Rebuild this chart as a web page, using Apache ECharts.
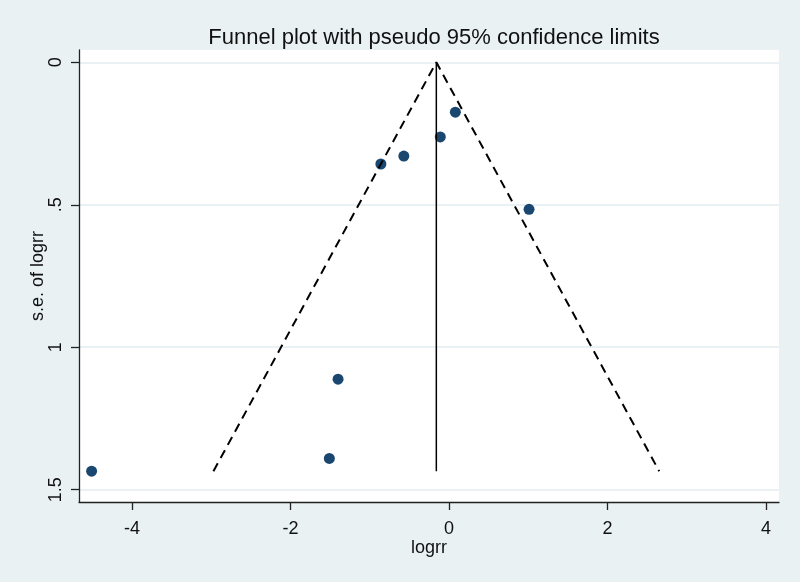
<!DOCTYPE html>
<html>
<head>
<meta charset="utf-8">
<script src="https://cdn.jsdelivr.net/npm/echarts@6/dist/echarts.min.js"></script>
<style>html,body{margin:0;padding:0;background:#E9F1F3;}#c{width:800px;height:582px;}</style>
</head>
<body>
<div id="c"></div>
<script>
// Study estimates (log risk ratio) and their standard errors
const logrr = [-4.51, -1.51, -1.40, -0.86, -0.57, -0.11, 0.08, 1.01];
const se    = [1.435, 1.390, 1.112, 0.357, 0.329, 0.262, 0.175, 0.516];
// Pooled (fixed-effect) estimate
const pooled = -0.16;
// Axis ticks
const xTicks = [-4, -2, 0, 2, 4];
const yTicks = [0, 0.5, 1, 1.5];
const yTickLabels = ['0', '.5', '1', '1.5'];

const seMax = Math.max.apply(null, se);
const funnel = [
  [pooled - 1.96 * seMax, seMax],
  [pooled, 0],
  [pooled + 1.96 * seMax, seMax]
];
const centerLine = [[pooled, 0], [pooled, seMax]];
const points = logrr.map((v, i) => [v, se[i]]);

const font = 'Liberation Sans, Arial, sans-serif';
const chart = echarts.init(document.getElementById('c'));
chart.setOption({
  backgroundColor: '#E9F1F3',
  animation: false,
  title: {
    text: 'Funnel plot with pseudo 95% confidence limits',
    left: 429, top: 22, textAlign: 'center',
    textStyle: { fontFamily: font, fontSize: 22, fontWeight: 'normal', color: '#111' }
  },
  grid: { left: 79, right: 21, top: 50, bottom: 80, show: true, backgroundColor: '#ffffff', borderWidth: 0 },
  xAxis: {
    type: 'value', min: -4.669, max: 4.164,
    name: 'logrr', nameLocation: 'middle', nameGap: 37, nameMoveOverlap: false,
    nameTextStyle: { fontFamily: font, fontSize: 18, color: '#111' },
    axisLine: { onZero: false, lineStyle: { color: '#222', width: 1.3 } },
    axisTick: { show: true, length: 8, customValues: xTicks, lineStyle: { color: '#222', width: 1.3 } },
    axisLabel: { customValues: xTicks, margin: 18, fontFamily: font, fontSize: 18, color: '#111',
      formatter: v => String(v) },
    splitLine: { show: false }
  },
  yAxis: {
    type: 'value', inverse: true, min: -0.043, max: 1.543,
    name: 's.e. of logrr', nameLocation: 'middle', nameGap: 32, nameRotate: 90, nameMoveOverlap: false,
    nameTextStyle: { fontFamily: font, fontSize: 18, color: '#111' },
    axisLine: { onZero: false, lineStyle: { color: '#222', width: 1.3 } },
    axisTick: { show: true, length: 8, customValues: yTicks, lineStyle: { color: '#222', width: 1.3 } },
    axisLabel: { customValues: yTicks, rotate: 90, margin: 14, fontFamily: font, fontSize: 18, color: '#111',
      formatter: v => { const i = yTicks.indexOf(v); return i >= 0 ? yTickLabels[i] : ''; } },
    splitLine: { show: true, lineStyle: { color: '#E3EDF0', width: 1.5 } }
  },
  series: [
    {
      type: 'line', data: funnel, symbol: 'none', silent: true,
      lineStyle: { color: '#000', width: 2, type: [9, 6] }
    },
    {
      type: 'line', data: centerLine, symbol: 'none', silent: true,
      lineStyle: { color: '#000', width: 1.5 }
    },
    {
      type: 'scatter', data: points, symbol: 'circle', symbolSize: 11,
      itemStyle: { color: '#1A476F', opacity: 1 }
    }
  ]
});
</script>
</body>
</html>
